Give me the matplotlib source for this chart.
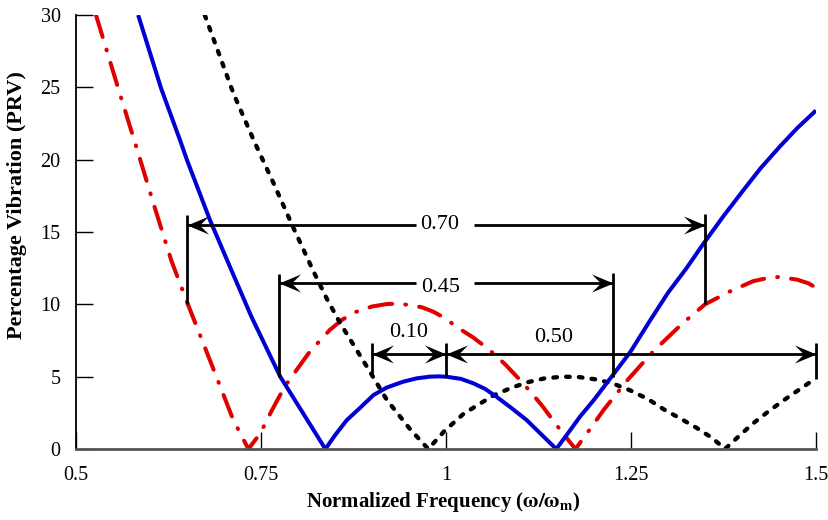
import numpy as np
import matplotlib
matplotlib.use("Agg")
import matplotlib.pyplot as plt
from matplotlib.path import Path

plt.rcParams['font.family'] = ['Liberation Serif', 'DejaVu Serif']
plt.rcParams['mathtext.fontset'] = 'stix'
plt.rcParams['lines.scale_dashes'] = False

# ---------------- data ----------------
blue_x = [0.584, 0.615, 0.6405, 0.650, 0.681, 0.708, 0.737, 0.776, 0.807, 0.837,
          0.850, 0.866, 0.884, 0.902, 0.920, 0.942, 0.960, 0.978, 0.990, 1.000,
          1.020, 1.037, 1.053, 1.068, 1.088, 1.109, 1.130, 1.149,
          1.165, 1.181, 1.200, 1.222, 1.249, 1.276, 1.300, 1.325, 1.348, 1.375,
          1.402, 1.425, 1.451, 1.475, 1.500]
blue_y = [30.0, 24.93, 21.36, 19.97, 15.83, 12.6, 9.15, 5.0, 2.46, 0.0,
          0.95, 2.0, 2.85, 3.73, 4.25, 4.65, 4.88, 5.0, 5.02, 5.0,
          4.85, 4.54, 4.15, 3.62, 2.85, 2.0, 0.95, 0.0,
          1.1, 2.23, 3.4, 4.88, 6.7, 8.9, 10.8, 12.5, 14.2, 16.1,
          17.9, 19.4, 20.9, 22.2, 23.4]

red_x = [0.527, 0.559, 0.582, 0.6045, 0.629, 0.652, 0.679, 0.7126, 0.733,
         0.749, 0.765, 0.782, 0.800, 0.816, 0.843, 0.860, 0.879, 0.900, 0.920,
         0.935, 0.951, 0.967, 0.983, 1.000, 1.014, 1.037, 1.059, 1.080, 1.100,
         1.116, 1.131, 1.145, 1.158, 1.175, 1.195, 1.213, 1.245, 1.280, 1.320,
         1.350, 1.384, 1.415, 1.433, 1.451, 1.475, 1.490, 1.500]
red_y = [30.0, 24.6, 20.8, 17.0, 13.0, 9.9, 6.4, 2.0, 0.0,
         1.08, 2.7, 4.31, 5.6, 6.73, 8.23, 8.95, 9.49, 9.85, 10.02,
         10.05, 9.95, 9.8, 9.49, 9.0, 8.45, 7.7, 6.84, 5.85, 4.77,
         3.85, 2.92, 1.95, 1.08, 0.0, 1.4, 2.7, 4.75, 6.75, 8.7,
         10.0, 10.9, 11.6, 11.8, 11.9, 11.7, 11.45, 11.15]

black_x = [0.674, 0.7126, 0.7405, 0.7667, 0.7937, 0.8207, 0.8388, 0.857, 0.893,
           0.920, 0.951, 0.976, 0.998, 1.023, 1.040, 1.064, 1.087, 1.109, 1.133,
           1.158, 1.180, 1.204, 1.227, 1.249, 1.273, 1.294, 1.317, 1.339, 1.360,
           1.377, 1.395, 1.415, 1.437, 1.460, 1.480, 1.500]
black_y = [30.0, 24.6, 21.3, 18.4, 15.3, 12.3, 10.4, 8.7, 5.7,
           3.4, 1.4, 0.0, 1.25, 2.4, 2.95, 3.7, 4.2, 4.6, 4.88,
           5.0, 4.97, 4.8, 4.5, 4.05, 3.45, 2.75, 2.1, 1.45, 0.75,
           0.0, 0.85, 1.77, 2.65, 3.5, 4.2, 4.9]

x_ticks = [0.5, 0.75, 1.0, 1.25, 1.5]
x_tick_labels = ['0.5', '0.75', '1', '1.25', '1.5']
y_ticks = [0, 5, 10, 15, 20, 25, 30]
y_tick_labels = ['0', '5', '10', '15', '20', '25', '30']

# dimension annotations: (x_left, x_right, y_line, label)
dim_lines = [(0.65, 1.35, 15.5, '0.70'),
             (0.775, 1.225, 11.45, '0.45'),
             (0.90, 1.00, 6.57, '0.10'),
             (1.00, 1.50, 6.57, '0.50')]
# vertical bars: (x, y_bottom, y_top)
dim_bars = [(0.65, 10.0, 16.15), (1.35, 10.0, 16.25),
            (0.775, 5.0, 12.1), (1.225, 5.0, 12.2),
            (0.90, 5.0, 7.3), (1.00, 5.0, 7.3), (1.50, 4.85, 7.3)]

# ---------------- figure ----------------
fig = plt.figure(figsize=(8.29, 5.2), dpi=100)
ax = fig.add_axes([76/829, 71/520, 740/829, 434/520])

ax.plot(red_x, red_y, color='#e00000', lw=2.9, linestyle=(0, (16.5, 9.5, 0.6, 9.5)),
        dash_capstyle='round', solid_joinstyle='round', zorder=3)
ax.plot(black_x, black_y, color='black', lw=3.1, linestyle=(0, (2.6, 6.6)),
        dash_capstyle='round', zorder=3)
ax.plot(blue_x, blue_y, color='#0000d2', lw=2.9, solid_capstyle='butt',
        solid_joinstyle='round', zorder=4)

# arrowhead marker (stealth shape, tip at origin)
head_r = Path([(0, 0), (-1, 0.42), (-0.58, 0), (-1, -0.42), (0, 0)],
              [Path.MOVETO, Path.LINETO, Path.LINETO, Path.LINETO, Path.CLOSEPOLY])
head_l = Path([(0, 0), (1, 0.42), (0.58, 0), (1, -0.42), (0, 0)],
              [Path.MOVETO, Path.LINETO, Path.LINETO, Path.LINETO, Path.CLOSEPOLY])

for xb, y0, y1 in dim_bars:
    ax.plot([xb, xb], [y0, y1], color='black', lw=2.0, solid_capstyle='butt',
            zorder=6, clip_on=False)

gaps = {'0.70': (0.9595, 1.0378), '0.45': (0.9595, 1.0378)}
label_pos = {'0.70': (0.992, 15.5), '0.45': (0.993, 11.15),
             '0.10': (0.950, 8.05), '0.50': (1.145, 7.72)}
for xl, xr, yl, lab in dim_lines:
    if lab in gaps:
        g0, g1 = gaps[lab]
        ax.plot([xl, g0], [yl, yl], color='black', lw=2.0, zorder=6, solid_capstyle='butt')
        ax.plot([g1, xr], [yl, yl], color='black', lw=2.0, zorder=6, solid_capstyle='butt')
    else:
        ax.plot([xl, xr], [yl, yl], color='black', lw=2.0, zorder=6, solid_capstyle='butt')
    ax.plot([xl], [yl], marker=head_l, ms=31, color='black', mew=0, zorder=7, clip_on=False)
    ax.plot([xr], [yl], marker=head_r, ms=31, color='black', mew=0, zorder=7, clip_on=False)
    tx, ty = label_pos[lab]
    ax.text(tx, ty, lab, ha='center', va='center', fontsize=16, zorder=8)

ax.set_xlim(0.5, 1.5)
ax.set_ylim(0, 30)
ax.set_xticks(x_ticks)
ax.set_xticklabels(x_tick_labels)
ax.set_yticks(y_ticks)
ax.set_yticklabels(y_tick_labels)

for s in ['top', 'right']:
    ax.spines[s].set_visible(False)
ax.spines['left'].set_color('black')
ax.spines['left'].set_linewidth(1.3)
ax.spines['bottom'].set_color('#555555')
ax.spines['bottom'].set_linewidth(2.0)
ax.spines['bottom'].set_zorder(5)

ax.tick_params(axis='both', direction='in', length=12, width=1.0, labelsize=14.5, colors='black')
ax.tick_params(axis='x', pad=12)
ax.tick_params(axis='y', pad=11)

ax.set_xlabel(r'Normalized Frequency ($\mathbf{\omega/\omega_m}$)', fontsize=15, fontweight='bold')
ax.set_ylabel('Percentage Vibration (PRV)', fontsize=16, fontweight='bold')
ax.xaxis.set_label_coords(0.496, -0.094)
ax.yaxis.set_label_coords(-0.066, 0.562)

fig.savefig('out.png', dpi=100)
